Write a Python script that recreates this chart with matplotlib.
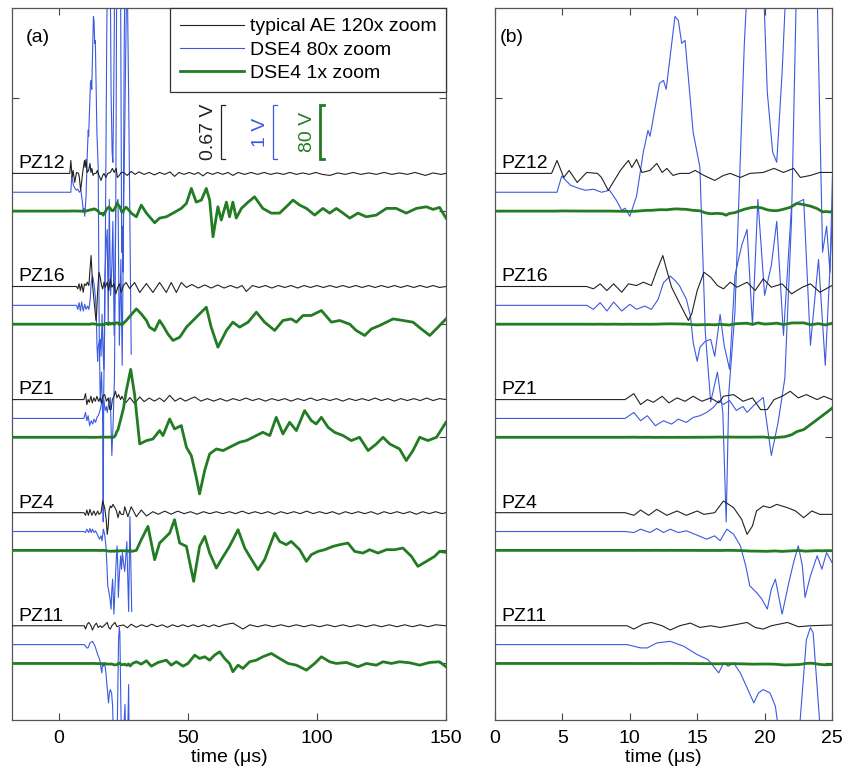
import numpy as np
import matplotlib
matplotlib.use('Agg')
import matplotlib.pyplot as plt
import matplotlib.transforms as mtransforms

plt.rcParams['font.family'] = ['Liberation Sans', 'DejaVu Sans']

sensors = ['PZ12', 'PZ16', 'PZ1', 'PZ4', 'PZ11']

# typical AE waveforms, (time in us, amplitude in mV)
pz12_ae = [(-18, 0), (4.2, 0), (4.6, 161), (5.1, -50), (5.5, 37), (6.1, -112), (6.8, 12), (7.6, 0),
           (7.9, -50), (8.4, -211), (9.3, 37), (9.9, 161), (10.15, 74), (10.5, 174), (10.9, 12),
           (11.5, 37), (12.0, 124), (12.4, 12), (12.75, 62), (13.2, -25), (13.7, 0), (14.4, 0),
           (14.85, 37), (15.5, -25), (16.3, -87), (16.95, -25), (17.45, 0), (18.2, -50), (18.9, 0),
           (19.9, 12), (20.7, 62), (21.4, 12), (22.15, 62), (22.65, -50), (23.4, -25), (24.1, 12),
           (25, 12), (26.5, -25), (28, 25), (29.5, -12), (31, 19), (33, -12), (35, 12), (37, -19),
           (39, 12), (41, -12), (43, 19), (44.8, -37), (46.5, 12), (48.5, -12), (50.5, 12),
           (52.5, -12), (54, 12), (55.8, -31), (57.5, 12), (59.5, -12), (61.5, 12), (63.5, -12),
           (65.5, 12), (67.4, -25), (69.5, 12), (72, -12), (74.5, 12), (77, -12), (79.5, 12),
           (82, -12), (84.5, 6), (87, -12), (89.5, 12), (92, -12), (94.5, 6), (97, -12), (99.5, 12),
           (102, -12), (105, -25), (108, 6), (111, -12), (114, 12), (117, -12), (120, 6), (123, -12),
           (126, 12), (129, -12), (132, 6), (135, -12), (138, 12), (142, -25), (145, 6), (148, -12),
           (150, 0)]

pz16_ae = [(-18, 0), (6.8, 0), (7.3, -29), (7.8, 33), (8.3, -50), (8.8, 33), (9.4, -71), (9.9, 33),
           (10.5, 12), (11.0, 53), (11.6, 12), (12.0, 198), (12.45, 384), (12.75, 198), (13.1, -9),
           (13.7, -211), (14.35, -422), (14.6, -335), (15.0, -50), (15.5, 177), (16.0, 115),
           (16.5, 12), (16.95, -29), (17.45, 53), (17.95, -9), (18.7, 53), (19.3, -50), (19.9, 95),
           (20.5, -9), (21.3, 33), (22.0, -91), (22.8, -9), (23.4, 33), (24.1, -71), (25, 12),
           (26, 50), (27.4, -25), (29.3, 50), (31.3, -74), (33.9, 37), (36.4, -74), (39, 50),
           (41.6, -74), (43.5, 50), (45.5, -74), (47.4, 50), (49.4, -12), (51.5, 25), (54, -19),
           (56.5, 19), (59, -19), (61.5, 19), (64, -19), (66.5, 12), (69, -19), (71, 12), (72.6, -62),
           (75, 12), (77.5, -12), (80, 12), (82.5, -19), (85, 12), (87.5, -12), (90, 12), (92.5, -19),
           (95, 12), (97.5, -12), (100, 12), (102.5, -12), (105, 12), (107.5, -12), (110, 12),
           (112.5, -12), (115, 12), (117.5, -12), (120, 12), (122.5, -12), (125, 12), (127.5, -12),
           (130, 12), (132.5, -12), (135, 12), (137.5, -12), (140, 12), (142.5, -12), (145, 12),
           (147.5, -12), (150, 0)]

pz1_ae = [(-18, 0), (9.65, 0), (10.3, 74), (10.8, -62), (11.3, 0), (11.75, -33), (12.4, 41),
          (12.9, -41), (13.5, 21), (14.1, -21), (14.7, 41), (15.35, -21), (16.0, 21), (16.6, -41),
          (16.95, 41), (17.7, 62), (18.4, -21), (19.1, 21), (19.7, -124), (20.2, -124), (20.7, 0),
          (21.3, 41), (21.9, 103), (22.5, 21), (23.1, 62), (23.9, 0), (24.4, 41), (25, 0), (26, -37),
          (27.5, 25), (29.3, -50), (31.3, 33), (33, -25), (35, 19), (37, -19), (39, 19), (40.8, -25),
          (42.9, 53), (45, -19), (47, 19), (49, -19), (51, 12), (52.6, 33), (55, -19), (57.5, 12),
          (60, -19), (62.5, 12), (65, -19), (67.5, 12), (70, -12), (72.5, 19), (75, -12), (77.5, 12),
          (80, -19), (82.5, 12), (85, -12), (87.5, 12), (90, -19), (92.5, 12), (95, -12), (97.5, 19),
          (100, -12), (102.5, 12), (105, -12), (107.5, 12), (110, -19), (112.5, 12), (115, -12),
          (117.5, 12), (120, -12), (122.5, 19), (125, -12), (127.5, 12), (130, -19), (132.5, 12),
          (135, -12), (137.5, 12), (140, -12), (142.5, 19), (145, -12), (147.5, 12), (150, 0)]

pz4_ae = [(-18, 0), (9.65, 0), (10.3, -33), (10.8, 33), (11.4, -33), (12.0, 41), (12.75, -33),
          (13.5, 21), (14.2, -33), (15.0, 21), (15.5, -21), (16.3, 0), (16.95, 145), (17.7, 62),
          (18.3, -83), (18.7, -269), (19.1, -165), (19.4, 21), (19.9, 83), (20.4, 62), (20.9, 103),
          (21.7, 62), (22.3, 21), (22.9, -62), (23.5, 21), (24.1, -21), (25, -21), (25.5, 74),
          (26.7, -50), (28, 74), (30, -50), (31.9, 33), (33.9, -41), (36.4, 12), (38.5, -19),
          (41, 19), (43.5, -19), (46, 19), (48.5, -12), (51, 12), (53.5, -19), (56, 12), (58.5, -12),
          (61, 12), (63.5, -12), (66, 12), (68.5, -12), (71, 19), (73.5, -12), (76, 12), (78.5, -12),
          (81, 12), (83.5, -19), (86, 12), (88.5, -12), (91, 12), (93.5, -12), (96, 19), (98.5, -12),
          (101, 12), (103.5, -12), (106, 12), (108.5, -19), (111, 12), (113.5, -12), (116, 12),
          (118.5, -12), (121, 12), (123.5, -19), (126, 12), (128.5, -12), (131, 12), (133.5, -12),
          (136, 12), (138.5, -19), (141, 12), (143.5, -12), (146, 12), (148.5, -12), (150, 0)]

pz11_ae = [(-18, 0), (9.8, 0), (10.3, -41), (11.0, 21), (11.6, 41), (12.4, 0), (13.0, -53),
           (13.7, 0), (14.5, 33), (15.2, -21), (16.0, 0), (16.7, -21), (17.7, 9), (18.7, 41),
           (19.3, -21), (19.9, -41), (20.5, 0), (21.7, 41), (22.5, -12), (23.4, 0), (25, 9),
           (26.5, -25), (28, 19), (30, -19), (32, 12), (34, -12), (36, 19), (38, -12), (40, 12),
           (42, -19), (44, 12), (46, -12), (48, 12), (50, -12), (52, 12), (54, -12), (56, 12),
           (58, -12), (60, 12), (62, -12), (64, 12), (67.4, 33), (71.3, -41), (74, 12), (77, -12),
           (80, 12), (83, -12), (86, 12), (89, -12), (92, 12), (95, -12), (98, 12), (101, -12),
           (104, 12), (107, -12), (110, 12), (113, -12), (116, 12), (119, -12), (122, 12), (125, -12),
           (128, 12), (131, -12), (134, 12), (137, -12), (140, 12), (143, -12), (146, 12), (150, 0)]

# DSE4 waveforms, (time in us, amplitude in V)
pz12_dse = [(-18, 0), (4.6, 0), (4.95, 0.30), (5.6, 0.13), (6.2, 0.074), (6.7, 0.037), (7.3, 0.056),
            (7.9, 0), (8.5, 0.037), (9.0, -0.148), (9.4, -0.333), (9.65, -0.296), (10.0, -0.444),
            (10.5, -0.074), (11.0, 0.74), (11.35, 1.147), (11.5, 1.036), (12.2, 2.017), (12.5, 2.072),
            (12.7, 1.906), (13.35, 3.256), (13.6, 3.182), (13.85, 2.757), (14.1, 2.812), (14.7, 1.11),
            (15.2, 0.463), (15.6, -2.59), (16.0, -3.885), (16.5, -3.33), (16.9, -4.07), (17.15, -6.105),
            (17.35, -3.7), (17.8, -2.22), (18.5, 2.775), (19.0, 5.18), (19.4, 5.92), (19.8, 4.625),
            (20.2, 1.85), (20.6, 0.74), (20.9, 0.555), (21.3, 2.22), (21.9, 5.55), (22.4, 11.47),
            (22.9, 9.62), (23.4, 7.4), (23.9, 3.7), (24.3, -1.11), (24.6, -0.63), (24.85, -1.48),
            (25.3, 2.775), (26.0, 5.9), (27.0, 1.8), (28.0, -3.0), (30.0, -8.4), (31.9, 8.9),
            (33.9, -3.0), (37.1, -17.3), (39.0, -10.4), (41.6, -8.4), (44.2, -3.0), (47.4, 4.0),
            (49.4, 11.4), (51.3, 33.6), (53.2, 13.3), (55.2, 16.3), (57.1, 33.6), (58.4, 16.3),
            (59.7, -38.0), (61.6, 6.4), (62.9, -13.3), (64.9, 13.3), (66.1, -8.4), (67.4, 13.3),
            (68.7, -10.4), (70.7, 4.0), (73.3, 13.3), (75.8, 21.2), (79.0, 4.0), (82.3, -3.0),
            (85.5, -3.0), (88.1, 6.4), (90.7, 16.3), (93.3, 8.9), (95.9, 4.0), (99.1, -5.9),
            (102.3, 4.0), (104.9, -3.0), (107.5, 4.0), (110.1, -3.0), (112.7, -10.4), (115.9, -3.0),
            (119.1, -8.4), (123.0, -5.9), (126.9, 4.0), (130.7, 4.0), (134.6, -3.0), (138.5, 4.0),
            (142.4, 6.4), (145.0, 2.5), (147.5, 5.5), (150.0, -10.4)]

pz16_dse = [(-18, 0), (6.8, 0), (7.3, -0.074), (7.8, 0.05), (8.3, -0.105), (8.8, 0.061), (9.4, -0.105),
            (10.0, 0.019), (10.5, -0.074), (11.1, -0.013), (11.6, -0.074), (12.1, 0.111), (12.5, 0.42),
            (13.0, 0.542), (13.4, 0.45), (13.7, 0.357), (14.2, 0.111), (14.5, -0.198), (14.7, -0.685),
            (15.0, -1.036), (15.2, -0.777), (15.6, -0.666), (16.0, -0.629), (16.3, -0.944),
            (16.7, -0.167), (17.0, -0.74), (17.4, -1.184), (17.8, 0.555), (18.3, 1.11), (18.7, 1.406),
            (19.1, -0.37), (19.5, 1.961), (20.0, 0.185), (20.5, 0.74), (20.9, 1.554), (21.4, -0.555),
            (22.0, 1.85), (22.9, 1.961), (23.4, -0.74), (24.0, 0.851), (24.5, -1.11), (25.0, 1.48),
            (26.1, 5.5), (27.5, 11.8), (30, 22.7), (31.9, 15.3), (33.9, 5.5), (35.1, -4.4),
            (37.1, -9.3), (39, 5.5), (40.3, -1.9), (42.2, -14.4), (44.2, -24.1), (46.8, -19.3),
            (49.4, -4.4), (51.3, 3.0), (53.9, 12.9), (57.1, 25.2), (59, -4.4), (61.6, -34.1),
            (64.9, -9.3), (67.4, 3.0), (70, -4.4), (73.3, 3.0), (76.5, 17.8), (79.7, 3.0), (83.6, -9.3),
            (86.8, 5.5), (90, 7.8), (92, 3.0), (94.6, 12.9), (97.8, 12.9), (101.7, 20.3), (105.6, 3.0),
            (108.8, 5.5), (112.7, 0), (115.2, -9.3), (118.5, -16.7), (121.1, -7.0), (124.3, -1.9),
            (129.5, 7.8), (133.3, 5.5), (137.2, 3.0), (140.4, -7.0), (143.7, -16.7), (146.9, -4.4),
            (150, 7.8)]

pz1_dse = [(-18, 0), (9.65, 0), (10.3, 0.111), (10.8, -0.043), (11.3, 0.05), (11.9, -0.135),
           (12.5, -0.043), (13.1, -0.105), (13.6, -0.013), (14.2, -0.074), (14.7, 0.019), (15.2, 0.05),
           (15.7, 0.111), (16.2, 0.204), (16.6, 0.327), (16.95, 0.259), (17.4, 0.333), (17.9, 0.148),
           (18.4, 0.222), (18.7, 0.111), (19.2, 0.241), (19.9, 0.389), (20.5, -0.685), (21.0, -0.074),
           (21.5, 0.74), (22.0, 3.7), (22.4, 8.44), (22.9, 11.4), (23.9, 26.2), (25, 42.9), (26.1, 69.1),
           (27.8, 100.6), (29.3, 63.6), (31.3, -9.9), (33.9, -4.9), (36.4, -2.5), (39, 9.9), (40.3, 2.5),
           (42.9, 27.1), (44.8, 12.3), (47.4, 17.3), (49.4, -14.8), (51.3, -27.1), (53.2, -59.2),
           (54.5, -83.9), (56.5, -48.8), (58.4, -24.7), (61, -17.3), (63.6, -19.7), (66.1, -14.8),
           (70, -7.4), (72.6, -4.9), (75.2, 0), (79, 7.4), (81.7, 2.5), (84.2, 29.6), (86.8, 4.9),
           (89.4, 22.2), (92, 9.9), (95.2, 39.5), (97.8, 24.7), (99.7, 19.7), (101.7, 29.6),
           (104.3, 14.8), (106.8, 7.4), (110.1, 2.5), (113.3, -4.9), (116.5, 0), (119.8, -19.7),
           (123, -9.9), (125.6, 0), (128.2, -9.9), (132, -17.3), (134.6, -34.5), (137.2, -19.7),
           (139.8, 0), (143, -4.9), (146.3, 0), (150, 22.2)]

pz4_dse = [(-18, 0), (9.65, 0), (10.3, -0.019), (10.8, 0.043), (11.5, -0.019), (12.0, 0.056),
           (12.5, -0.019), (13.0, 0.043), (13.6, -0.019), (14.2, 0.013), (15.0, -0.068), (15.7, -0.142),
           (16.3, -0.08), (16.7, -0.172), (17.2, 0.043), (17.7, -0.05), (18.2, -0.265), (18.6, -0.635),
           (18.9, -1.005), (19.4, -1.129), (19.8, -1.252), (20.2, -1.437), (20.5, -1.067),
           (20.8, -0.882), (21.3, -1.53), (21.8, -0.944), (22.15, -0.574), (22.5, -0.265),
           (22.8, -0.635), (23.0, -1.221), (23.4, -0.82), (23.9, -0.45), (24.25, -0.697),
           (24.6, -0.389), (25.0, -0.574), (25.5, -0.74), (26.3, -0.185), (27.0, -1.48), (27.5, 0.278),
           (28.2, -1.48), (30, 0), (31.9, 15.8), (34.5, 35.5), (37.1, -13.8), (39, 10.8), (41.6, 20.7),
           (42.9, 25.6), (44.8, 45.4), (46.8, 10.8), (49.4, 5.9), (52.2, -45.9), (54.5, 5.9),
           (56.5, 20.7), (58.4, -4.0), (61, -26.2), (62.9, -13.8), (66.1, 5.9), (69.4, 30.6),
           (72, 3.4), (73.9, -8.9), (77.1, -28.6), (79.7, -13.8), (83.6, 25.6), (85.5, 13.3),
           (88.1, 8.4), (90, 13.3), (93.3, 1.0), (95.9, -16.3), (97.8, -6.4), (100.4, -1.5),
           (103, 1.0), (106.2, 5.9), (108.8, 8.4), (112, 10.8), (114.6, -1.5), (117.8, -4.0),
           (120.4, 1.0), (123.6, -4.0), (126.9, 1.0), (130.1, 1.0), (133.3, 3.4), (136.6, -8.9),
           (139.1, -23.7), (142.4, -16.3), (145.6, -8.9), (147.5, -1.5), (150, -3.0)]

pz11_dse = [(-18, 0), (9.8, 0), (10.8, -0.061), (11.3, -0.061), (12.0, 0.031), (13.0, 0.061),
            (14.0, -0.031), (15.0, -0.185), (15.8, -0.278), (16.2, -0.401), (16.6, -0.524),
            (16.95, -0.339), (17.3, -0.401), (17.7, -0.339), (18.2, -0.524), (18.7, -0.801),
            (19.2, -1.079), (19.55, -0.894), (19.9, -0.833), (20.4, -0.894), (20.8, -1.141),
            (21.0, -1.517), (21.5, -2.22), (22.2, -1.85), (22.6, -1.517), (23.1, 0.093), (23.4, 0.315),
            (23.6, 0.222), (24.1, -1.48), (24.5, -2.035), (25.0, -1.665), (25.6, -1.11), (26.2, -2.775),
            (27.0, -0.74), (27.6, -3.7), (28.5, 0), (30, 2.5), (31.9, -1.0), (33.9, 4.0), (35.8, -4.0),
            (38.4, 1.5), (41.6, 4.9), (43.5, -2.5), (45.5, 2.5), (48.1, -4.0), (50, 0), (52.6, 12.3),
            (54.5, 7.4), (56.5, 9.9), (58.4, 4.9), (60.3, 12.3), (62.3, 17.3), (64.2, 7.4), (66.1, 0),
            (67.4, -12.3), (69.4, -2.5), (71.3, -7.4), (73.9, 2.5), (76.5, 4.9), (79, 9.9), (82.3, 14.8),
            (85.5, 7.4), (88.8, 0), (92, -2.5), (95.9, -9.9), (99.1, 0), (101.7, 9.9), (104.9, 2.5),
            (107.5, 0), (111.4, 1.5), (115.9, -4.9), (119.1, 0), (123, -2.5), (125.6, 2.5), (128.8, 0),
            (132, 2.5), (135.9, 1.0), (139.8, -2.5), (143.7, 1.5), (147.5, 2.5), (150, -4.9)]

ae_traces = [pz12_ae, pz16_ae, pz1_ae, pz4_ae, pz11_ae]
dse_traces = [pz12_dse, pz16_dse, pz1_dse, pz4_dse, pz11_dse]

ae_bar_mv = 670.0     # 0.67 V scale bar
blue_bar_v = 1.0      # 1 V scale bar (80x zoom)
green_bar_v = 80.0    # 80 V scale bar (1x zoom)
blue_cutoff = 28.2    # zoomed DSE4 trace only shown over the first part

bar_h = 0.4775        # height of every scale bar in axis units
off_ae, off_blue = 1 / 3, 1 / 6

c_ae, c_blue, c_green = '#222222', '#3a5ae0', '#237b23'

fig = plt.figure(figsize=(8.48, 7.75), dpi=100)
ax_a = fig.add_axes([12 / 848, 55 / 775, 434 / 848, 712 / 775])
ax_b = fig.add_axes([495 / 848, 55 / 775, 337 / 848, 712 / 775])

for ax in (ax_a, ax_b):
    trans = mtransforms.blended_transform_factory(ax.transAxes, ax.transData)
    for k, name in enumerate(sensors):
        base = -(k + 1)
        t_ae, v_ae = np.array(ae_traces[k], dtype=float).T
        t_d, v_d = np.array(dse_traces[k], dtype=float).T
        m = t_d <= blue_cutoff
        lab = k == 0 and ax is ax_a
        ax.plot(t_ae, base + off_ae + v_ae * bar_h / ae_bar_mv, color=c_ae, lw=0.8, zorder=3,
                solid_joinstyle='round', label='typical AE 120x zoom' if lab else None)
        ax.plot(t_d[m], base + off_blue + v_d[m] * bar_h / blue_bar_v, color=c_blue, lw=0.8, zorder=2,
                solid_joinstyle='round', label='DSE4 80x zoom' if lab else None)
        ax.plot(t_d, base + v_d * bar_h / green_bar_v, color=c_green, lw=2.0, zorder=4,
                solid_joinstyle='round', label='DSE4 1x zoom' if lab else None)
        x_lab = 0.014 if ax is ax_a else 0.02
        ax.text(x_lab, base + off_ae + 0.045, name, transform=trans, fontsize=14,
                ha='left', va='baseline', zorder=5)

    ax.set_ylim(-5.5, 0.796)
    ax.set_yticks(np.arange(-5, 1))
    ax.set_yticklabels([])
    ax.tick_params(direction='in', top=True, right=True, length=5, width=0.8,
                   labelsize=14, pad=7, color='#444444')
    for sp in ax.spines.values():
        sp.set_color('#555555')
        sp.set_linewidth(0.9)
    ax.set_xlabel('time (\u03bcs)', fontsize=14, labelpad=2)

ax_a.set_xlim(-18.2, 150)
ax_a.set_xticks([0, 50, 100, 150])
ax_b.set_xlim(0, 25)
ax_b.set_xticks([0, 5, 10, 15, 20, 25])

ax_a.text(0.06, 0.958, '(a)', transform=ax_a.transAxes, fontsize=14, ha='center', va='center')
ax_b.text(0.05, 0.958, '(b)', transform=ax_b.transAxes, fontsize=14, ha='center', va='center')

# scale bars
bar_top = -0.062
bars = [(62.8, '0.67 V', c_ae, 0.9), (82.9, '1 V', c_blue, 0.9), (101.2, '80 V', c_green, 2.0)]
for xb, txt, col, lw in bars:
    ax_a.plot([xb + 1.5, xb, xb, xb + 1.5], [bar_top, bar_top, bar_top - bar_h, bar_top - bar_h],
              color=col, lw=lw, solid_joinstyle='miter', zorder=5)
    ax_a.text(xb - 1.6, bar_top - bar_h / 2, txt, color=col, fontsize=14, rotation=90,
              ha='right', va='center')

leg = ax_a.legend(loc='upper right', fontsize=14, borderaxespad=0, frameon=True, fancybox=False,
                  framealpha=1, edgecolor='#333333', handlelength=3.3, handletextpad=0.3,
                  labelspacing=0.3, borderpad=0.5)
leg.get_frame().set_linewidth(0.9)
leg.set_zorder(10)

fig.savefig('out.png', dpi=100)
